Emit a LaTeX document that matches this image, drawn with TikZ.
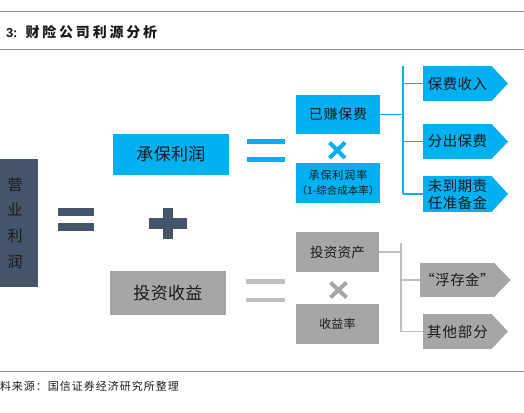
\documentclass[tikz,border=0pt]{standalone}
\usepackage{fontspec}
\setmainfont{Liberation Sans}
\newfontfamily\cjk{Noto Sans CJK SC}
\usetikzlibrary{calc}
\definecolor{cblue}{HTML}{00B0F0}
\definecolor{cgray}{HTML}{A6A6A6}
\definecolor{cline}{HTML}{BFBFBF}
\definecolor{cslate}{HTML}{44546A}
\definecolor{crule}{HTML}{8C8C8C}
\definecolor{ctext}{HTML}{1A1A1A}
\newcommand\cf[2]{\cjk\fontsize{#1}{#1}\selectfont\addfontfeature{LetterSpace=#2}}
\tikzset{
  bbox/.style={fill=cblue, inner sep=0pt, outer sep=0pt, text=ctext, align=center},
  gbox/.style={fill=cgray, inner sep=0pt, outer sep=0pt, text=ctext, align=center},
  sbox/.style={fill=cslate, inner sep=0pt, outer sep=0pt, text=ctext, align=center},
  bconn/.style={draw=cblue, line width=1.8pt},
  gconn/.style={draw=cline, line width=1.8pt},
  rulel/.style={draw=crule, line width=1pt},
  txt/.style={inner sep=0pt, outer sep=0pt, text=ctext, align=center},
}
\begin{document}
\begin{tikzpicture}[x=1pt,y=-1pt]
\useasboundingbox (0,0) rectangle (524,412);
% header and footer rules
\coordinate (r1a) at (0,12); \coordinate (r1b) at (524,12);
\coordinate (r2a) at (0,50); \coordinate (r2b) at (524,50);
\coordinate (r3a) at (0,371); \coordinate (r3b) at (524,371);
\draw[rulel] (r1a) -- (r1b);
\draw[rulel] (r2a) -- (r2b);
\draw[rulel] (r3a) -- (r3b);
\node[txt, anchor=west] (title) at (6,32.5) {\fontsize{13}{13}\selectfont\bfseries 3:\hspace{8pt}\cf{14}{20}财险公司利源分析};
\node[txt, anchor=west] (src) at (0,386) {\cf{11}{9}料来源：国信证券经济研究所整理};

% left box
\node[sbox, minimum width=38pt, minimum height=128pt, font={\cf{15}{0}}] (yl) at (19,223) {\hspace*{-8pt}营\\[10.7pt]\hspace*{-8pt}业\\[10.7pt]\hspace*{-8pt}利\\[10.7pt]\hspace*{-8pt}润};

% dark equals
\fill[cslate] (58,208) rectangle (94,216);
\fill[cslate] (58,222.5) rectangle (94,231);
% plus
\fill[cslate] (149,218) rectangle (187,229);
\fill[cslate] (163,208) rectangle (173,239);

% main boxes
\node[bbox, minimum width=116pt, minimum height=41pt, font=\cf{17}{2}] (cb) at (171,154.5) {承保利润};
\node[gbox, minimum width=116pt, minimum height=44pt, font=\cf{17}{2}] (tz) at (168,293) {投资收益};

% blue equals
\fill[cblue] (247,139) rectangle (285,143.5);
\fill[cblue] (247,157) rectangle (285,161.5);
% gray equals
\fill[cline] (246,279.3) rectangle (285,283.5);
\fill[cline] (246,297.7) rectangle (285,301.8);

% factor boxes
\node[bbox, minimum width=84pt, minimum height=39pt, font=\cf{14}{5}] (yz) at (338,114.5) {已赚保费};
\node[bbox, minimum width=84pt, minimum height=40pt, font={\cf{11}{8}\baselineskip=15pt}] (cl) at (338,183) {承保利润率\\\cf{10.5}{0}（1-综合成本率）};
\node[gbox, minimum width=83pt, minimum height=40pt, font=\cf{13.5}{2}] (tzz) at (337.5,252) {投资资产};
\node[gbox, minimum width=83pt, minimum height=40pt, font=\cf{12}{2}] (syl) at (337.5,324) {收益率};

% times signs
\draw[cblue, line width=4pt] (329.5,142.5) -- (345,158) (329.5,158) -- (345,142.5);
\draw[cgray, line width=4pt] (330.5,282.5) -- (346.5,297.5) (330.5,297.5) -- (346.5,282.5);

% arrow (pentagon) nodes
\node[bbox, minimum width=69pt, minimum height=35pt, font=\cf{14.5}{3}] (bf) at (457.5,83.5) {保费收入};
\node[bbox, minimum width=69pt, minimum height=35pt, font=\cf{14.5}{3}] (fc) at (457.5,141.5) {分出保费};
\node[bbox, minimum width=69pt, minimum height=36pt, font={\cf{14.5}{3}\baselineskip=17pt}] (wd) at (457.5,194) {未到期责\\任准备金};
\node[gbox, minimum width=69pt, minimum height=34pt, font=\cf{14.5}{3}] (fcj) at (457.5,280) {“浮存金”};
\node[gbox, minimum width=69pt, minimum height=35pt, font=\cf{14.5}{6}] (qt) at (457.5,331.5) {其他部分};
\foreach \n/\c in {bf/cblue, fc/cblue, wd/cblue, fcj/cgray, qt/cgray}{
  \fill[\c] ($(\n.north east)+(-0.5pt,0)$) -- ($(\n.east)+(16pt,0)$) -- ($(\n.south east)+(-0.5pt,0)$) -- cycle;
}

% blue bracket
\coordinate (bt) at (403,66);
\coordinate (bb) at (403,194);
\draw[bconn] (bt) -- (bb);
\draw[bconn] (yz.east) -- (yz.east -| bt);
\draw[bconn] (bf.west -| bt) -- (bf.west);
\draw[bconn] (fc.west -| bt) -- (fc.west);
\draw[bconn] (wd.west -| bt) -- (wd.west);

% gray bracket
\coordinate (gt) at (401,243);
\coordinate (gb) at (401,331.5);
\draw[gconn] (gt) -- (gb);
\draw[gconn] (tzz.east) -- (tzz.east -| gt);
\draw[gconn] (fcj.west -| gt) -- (fcj.west);
\draw[gconn] (qt.west -| gt) -- (qt.west);
\end{tikzpicture}
\end{document}
